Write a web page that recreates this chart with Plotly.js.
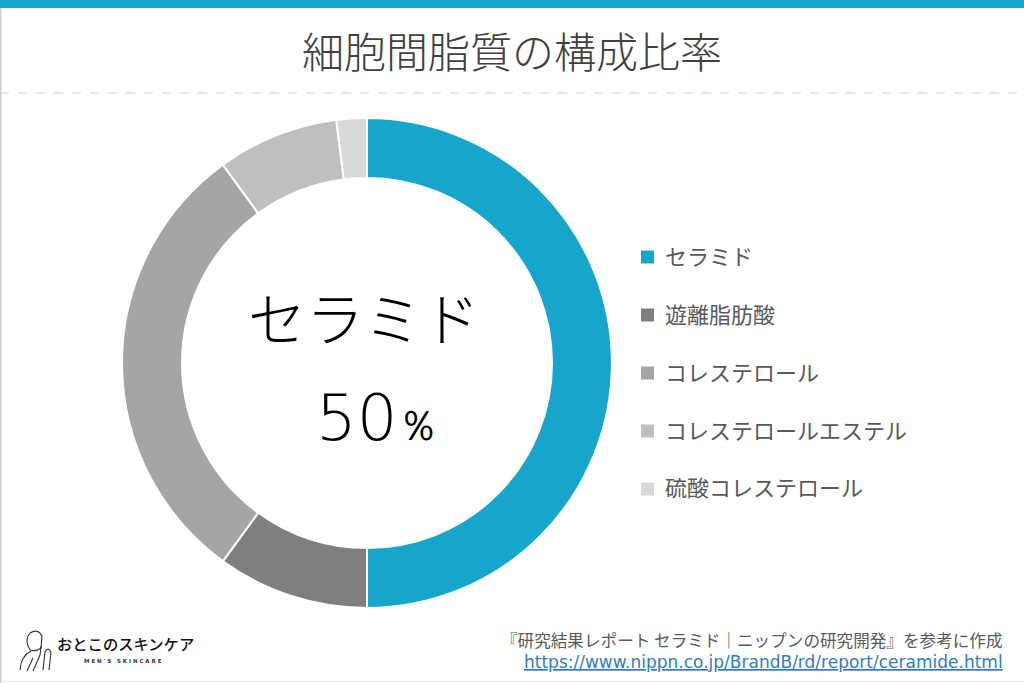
<!DOCTYPE html>
<html>
<head>
<meta charset="utf-8">
<script src="https://cdn.plot.ly/plotly-3.0.1.min.js"></script>
<style>html,body{margin:0;padding:0;background:#fff;}#chart{width:1024px;height:683px;}</style>
</head>
<body>
<div id="chart"></div>
<script>
const categories = ["セラミド", "遊離脂肪酸", "コレステロール", "コレステロールエステル", "硫酸コレステロール"];
const values = [50, 10, 30, 8, 2];
const colors = ["#17a6cb", "#7f7f7f", "#a5a5a5", "#bfbfbf", "#d9d9d9"];
const chartTitle = "細胞間脂質の構成比率";
const centerLabel = "セラミド";
const centerValue = "50";
const sourceText = "『研究結果レポート セラミド｜ニップンの研究開発』を参考に作成";
const sourceUrl = "https://www.nippn.co.jp/BrandB/rd/report/ceramide.html";
const logoText = "おとこのスキンケア";
const logoSub = "M E N ' S &nbsp; S K I N C A R E";

const W = 1024, H = 683;
const cx = 367, cy = 363, R = 245, r = 185;
const jp = "Noto Sans CJK JP, Noto Sans, sans-serif";

const trace = {
  type: "pie",
  labels: categories,
  values: values,
  sort: false,
  direction: "clockwise",
  rotation: 0,
  hole: r / R,
  textinfo: "none",
  hoverinfo: "label+percent",
  marker: {colors: colors, line: {color: "#ffffff", width: 2}},
  domain: {x: [(cx - R) / W, (cx + R) / W], y: [(H - cy - R) / H, (H - cy + R) / H]},
  showlegend: false
};

const annotations = [];
const shapes = [];
const px = (x) => x / W, py = (y) => (H - y) / H;
// legend built from data arrays
categories.forEach((c, i) => {
  const yPix = 257 + i * 58;
  shapes.push({type: "rect", xref: "paper", yref: "paper",
    x0: px(641), x1: px(654), y0: py(yPix + 6.5), y1: py(yPix - 6.5),
    fillcolor: colors[i], line: {width: 0}});
  annotations.push({xref: "paper", yref: "paper", x: px(663), y: py(yPix - 2.5),
    xanchor: "left", yanchor: "middle", showarrow: false, text: c,
    font: {family: jp, size: 22, color: "#595959"}});
});
// title
annotations.push({xref: "paper", yref: "paper", x: px(512), y: py(49), xanchor: "center", yanchor: "middle",
  showarrow: false, text: chartTitle, font: {family: jp, size: 42, color: "#404040", weight: 300}});
// centre labels
annotations.push({xref: "paper", yref: "paper", x: px(364), y: py(316), xanchor: "center", yanchor: "middle",
  showarrow: false, text: centerLabel, font: {family: jp, size: 58, color: "#000000", weight: 300}});
annotations.push({xref: "paper", yref: "paper", x: px(314), y: py(418), xanchor: "left", yanchor: "middle",
  showarrow: false, text: centerValue + "<span style='font-size:42px'>％</span>",
  font: {family: "DejaVu Sans, sans-serif", size: 64, color: "#000000", weight: 300}});
// source
annotations.push({xref: "paper", yref: "paper", x: px(1005), y: py(640), xanchor: "right", yanchor: "middle",
  showarrow: false, text: sourceText, font: {family: jp, size: 16.6, color: "#595959"}});
annotations.push({xref: "paper", yref: "paper", x: px(1005), y: py(662), xanchor: "right", yanchor: "middle",
  showarrow: false, text: "<u>" + sourceUrl + "</u>", font: {family: "DejaVu Sans, sans-serif", size: 17, color: "#2f7cc4"}});
// logo
annotations.push({xref: "paper", yref: "paper", x: px(55), y: py(643), xanchor: "left", yanchor: "middle",
  showarrow: false, text: logoText, font: {family: jp, size: 15.3, color: "#111111", weight: 500}});
annotations.push({xref: "paper", yref: "paper", x: px(123), y: py(661), xanchor: "center", yanchor: "middle",
  showarrow: false, text: logoSub, font: {family: "DejaVu Sans, sans-serif", size: 5.5, color: "#333333", weight: 700}});

// top bar, dashed divider, page border
shapes.push({type: "rect", xref: "paper", yref: "paper", x0: 0, x1: 1, y0: py(8), y1: 1, fillcolor: "#18a7cb", line: {width: 0}});
shapes.push({type: "line", xref: "paper", yref: "paper", x0: 0, x1: 1, y0: py(93), y1: py(93), line: {color: "#d0d0d0", width: 1, dash: "dash"}});
shapes.push({type: "line", xref: "paper", yref: "paper", x0: px(0.5), x1: px(0.5), y0: 0, y1: py(8), line: {color: "#cfcfcf", width: 2}});
shapes.push({type: "line", xref: "paper", yref: "paper", x0: 0, x1: 1, y0: py(681.5), y1: py(681.5), line: {color: "#e6e6e6", width: 1}});
// simple logo figure sketch
const sk = {color: "#333", width: 1.1};
shapes.push({type: "path", xref: "paper", yref: "paper",
  path: `M ${px(30)} ${py(650)} Q ${px(24)} ${py(640)} ${px(30)} ${py(633)} Q ${px(38)} ${py(628)} ${px(42)} ${py(636)} L ${px(41)} ${py(648)} Q ${px(36)} ${py(652)} ${px(30)} ${py(650)}`, line: sk});
shapes.push({type: "path", xref: "paper", yref: "paper",
  path: `M ${px(20)} ${py(670)} Q ${px(21)} ${py(656)} ${px(31)} ${py(651)}`, line: sk});
shapes.push({type: "path", xref: "paper", yref: "paper",
  path: `M ${px(27)} ${py(671)} L ${px(33)} ${py(658)}`, line: sk});
shapes.push({type: "path", xref: "paper", yref: "paper",
  path: `M ${px(33)} ${py(671)} L ${px(40)} ${py(655)} L ${px(41)} ${py(646)}`, line: sk});
shapes.push({type: "path", xref: "paper", yref: "paper",
  path: `M ${px(43)} ${py(670)} L ${px(45)} ${py(652)} Q ${px(48)} ${py(646)} ${px(51)} ${py(652)} L ${px(49)} ${py(670)}`, line: sk});

const layout = {
  width: W, height: H,
  margin: {l: 0, r: 0, t: 0, b: 0},
  paper_bgcolor: "#ffffff",
  showlegend: false,
  annotations: annotations,
  shapes: shapes
};
Plotly.newPlot("chart", [trace], layout, {displayModeBar: false, staticPlot: true});
</script>
</body>
</html>
